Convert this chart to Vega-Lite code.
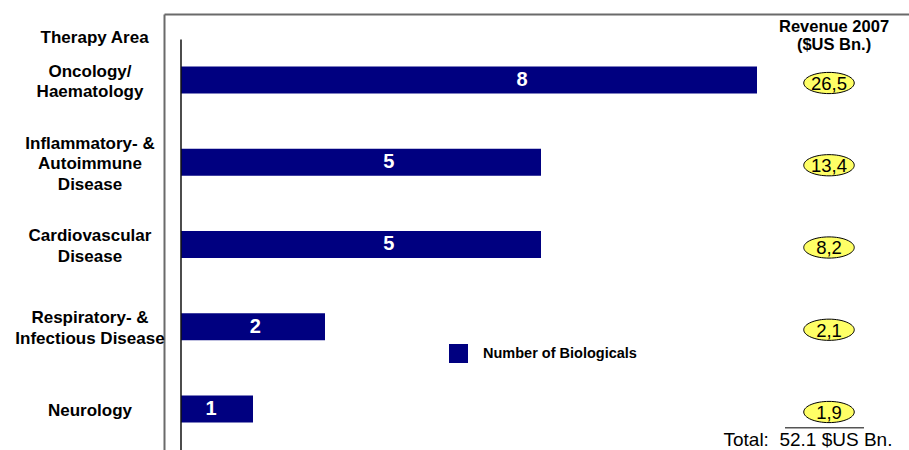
{
  "$schema": "https://vega.github.io/schema/vega-lite/v6.json",
  "width": 745,
  "height": 436,
  "autosize": {"type": "none"},
  "padding": {"left": 164, "top": 14, "right": 0, "bottom": 0},
  "background": "white",
  "config": {
    "view": {"stroke": null},
    "font": "Liberation Sans",
    "locale": {"number": {"decimal": ",", "thousands": ".", "grouping": [3], "currency": ["", ""]}}
  },
  "data": {
    "values": [
      {"area": "Oncology/\nHaematology", "n": 8, "revenue": 26.5},
      {"area": "Inflammatory- &\nAutoimmune\nDisease", "n": 5, "revenue": 13.4},
      {"area": "Cardiovascular\nDisease", "n": 5, "revenue": 8.2},
      {"area": "Respiratory- &\nInfectious Disease", "n": 2, "revenue": 2.1},
      {"area": "Neurology", "n": 1, "revenue": 1.9}
    ]
  },
  "resolve": {"scale": {"x": "independent"}},
  "layer": [
    {
      "encoding": {
        "y": {
          "field": "area",
          "type": "nominal",
          "sort": null,
          "scale": {
            "type": "band",
            "domain": ["Oncology/\nHaematology", "Inflammatory- &\nAutoimmune\nDisease", "Cardiovascular\nDisease", "Respiratory- &\nInfectious Disease", "Neurology"],
            "paddingInner": 0.67173,
            "paddingOuter": 0.48632,
            "align": 0.65625,
            "round": false
          },
          "axis": {"orient": "left", "domain": true, "domainColor": "#6a6a6a", "domainWidth": 2, "ticks": false, "labels": false, "grid": false, "title": null}
        }
      },
      "layer": [
        {
          "mark": {"type": "bar"},
          "encoding": {
            "x": {
              "field": "n",
              "type": "quantitative",
              "scale": {"domain": [-0.23611, 10.11111], "nice": false, "zero": false},
              "axis": {"orient": "top", "domain": true, "domainColor": "#6a6a6a", "domainWidth": 2, "ticks": false, "labels": false, "grid": false, "title": null}
            },
            "color": {
              "datum": "Number of Biologicals",
              "type": "nominal",
              "scale": {"range": ["#000080"]},
              "legend": {
                "orient": "none", "legendX": 285, "legendY": 330, "title": null,
                "symbolType": "square", "symbolSize": 361, "symbolStrokeWidth": 0,
                "labelFontSize": 14.5, "labelFontWeight": "bold", "labelOffset": 15,
                "labelColor": "black", "padding": 0
              }
            }
          }
        },
        {
          "data": {"values": [{}]},
          "mark": {"type": "rule", "color": "#111111", "strokeWidth": 1.5},
          "encoding": {
            "x": {"datum": 0, "type": "quantitative"},
            "y": {"datum": "Oncology/\nHaematology", "bandPosition": -1.0},
            "y2": {"datum": "Neurology", "bandPosition": 2.1}
          }
        },
        {
          "mark": {
            "type": "text", "lineBreak": "\n", "fontSize": 17, "fontWeight": "bold", "lineHeight": 20.5,
            "align": "center", "baseline": "middle", "color": "black",
            "dy": {"expr": "2 - (length(split(datum.area, '\\n')) - 1) * 10.25"}
          },
          "encoding": {
            "x": {"datum": -1.264, "type": "quantitative"},
            "text": {"field": "area"}
          }
        },
        {
          "data": {"values": [{}]},
          "mark": {"type": "text", "fontSize": 17, "fontWeight": "bold", "align": "center", "baseline": "middle", "color": "black"},
          "encoding": {
            "x": {"datum": -1.2, "type": "quantitative"},
            "y": {"datum": "Oncology/\nHaematology", "bandPosition": -1.056},
            "text": {"value": "Therapy Area"}
          }
        },
        {
          "mark": {
            "type": "point",
            "shape": "M -1 0 A 1 0.42 0 1 0 1 0 A 1 0.42 0 1 0 -1 0 Z",
            "size": 2550,
            "filled": true,
            "fill": "#ffff66",
            "stroke": "black",
            "strokeWidth": 1,
            "opacity": 1,
            "yOffset": 3
          },
          "encoding": {
            "x": {"datum": 9.0, "type": "quantitative"}
          }
        },
        {
          "mark": {"type": "text", "fontSize": 18.5, "align": "center", "baseline": "middle", "color": "black", "yOffset": 4},
          "encoding": {
            "x": {"datum": 9.0, "type": "quantitative"},
            "text": {"field": "revenue", "type": "quantitative", "format": ".1f"}
          }
        },
        {
          "data": {"values": [{}]},
          "mark": {"type": "text", "fontSize": 16.5, "fontWeight": "bold", "align": "center", "baseline": "middle", "color": "black", "lineHeight": 18},
          "encoding": {
            "x": {"datum": 9.07, "type": "quantitative"},
            "y": {"datum": "Oncology/\nHaematology", "bandPosition": -1.463},
            "text": {"value": ["Revenue 2007", "($US Bn.)"]}
          }
        },
        {
          "data": {"values": [{}]},
          "mark": {"type": "rule", "color": "#555555", "strokeWidth": 1.5},
          "encoding": {
            "x": {"datum": 8.389, "type": "quantitative"},
            "x2": {"datum": 9.486},
            "y": {"datum": "Neurology", "bandPosition": 1.19}
          }
        },
        {
          "data": {"values": [{}]},
          "mark": {"type": "text", "fontSize": 19, "align": "center", "baseline": "middle", "color": "black"},
          "encoding": {
            "x": {"datum": 8.708, "type": "quantitative"},
            "y": {"datum": "Neurology", "bandPosition": 1.65},
            "text": {"value": "Total:\u00a0 52.1 $US Bn."}
          }
        }
      ]
    },
    {
      "mark": {"type": "text", "fontSize": 20, "fontWeight": "bold", "align": "center", "baseline": "middle", "color": "white"},
      "encoding": {
        "x": {"field": "n", "type": "quantitative", "scale": {"domain": [1, 8], "range": [47, 358], "nice": false, "zero": false}, "axis": null},
        "y": {"field": "area", "type": "nominal", "sort": null},
        "text": {"field": "n", "type": "quantitative"}
      }
    }
  ]
}
